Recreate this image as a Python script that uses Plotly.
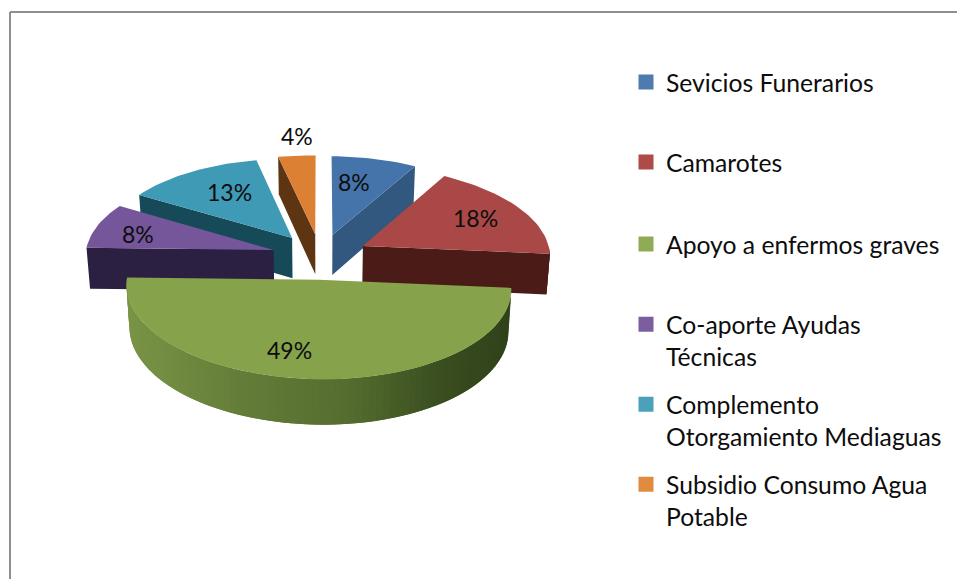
import math
import plotly.graph_objects as go

categories = ["Sevicios Funerarios", "Camarotes", "Apoyo a enfermos graves",
              "Co-aporte Ayudas<br>Técnicas", "Complemento<br>Otorgamiento Mediaguas",
              "Subsidio Consumo Agua<br>Potable"]
values = [8, 18, 49, 8.4, 13.1, 3.5]
top_colors = ["#4474aa", "#a94846", "#86a24a", "#75569a", "#3f9ab5", "#dc8034"]
wall_colors = ["#33587f", "#4b1b18", "#3c5022", "#2c2042", "#164a58", "#5e3512"]
legend_colors = ["#4f7ab0", "#ae4a48", "#8fab53", "#7c5ea0", "#4aa1b9", "#e08b3e"]

W, H = 957, 579
CX, CY, A, B, P, DEPTH, SHRINK, EXPLODE, ROLL = 320.5, 256.5, 188, 88, 0.077, 41, 0.015, 0.26, 0.0115
FONT = "Lato"
TEXT = "#0d0d0d"
LABEL_XY = [(354, 182), (475, 218), (289, 350), (138, 234), (229, 192), (297, 136)]
LEGEND_X = 626
LEGEND_Y = [83, 163, 245, 325, 405, 485]


def project(X, Y, z=0):
    s = 1 / (1 + P * Y)
    x = CX + A * X * s * (1 - SHRINK * z)
    return x, CY - B * Y * s + DEPTH * z * s + ROLL * (x - CX)


def pt(theta, r, ox, oy, z=0):
    t = math.radians(theta)
    return project(ox + r * math.sin(t), oy + r * math.cos(t), z)


def poly(fig, pts, color):
    fig.add_trace(go.Scatter(x=[p[0] for p in pts] + [pts[0][0]], y=[p[1] for p in pts] + [pts[0][1]],
                             mode="lines", fill="toself", fillcolor=color,
                             line=dict(color=color, width=0), hoverinfo="skip", showlegend=False))


def wall_shade(x):
    # horizontal gradient of the large curved wall
    stops = [(125, (122, 148, 70)), (250, (98, 124, 56)), (350, (84, 108, 46)), (440, (58, 78, 32)), (510, (48, 66, 26))]
    for (x0, c0), (x1, c1) in zip(stops, stops[1:]):
        if x <= x1:
            f = max(0, (x - x0) / (x1 - x0))
            return "rgb(%d,%d,%d)" % tuple(round(a + (b - a) * f) for a, b in zip(c0, c1))
    return "rgb(%d,%d,%d)" % stops[-1][1]


# slices with angle spans, clockwise from the top
total = sum(values)
spans, acc = [], 0
for v in values:
    spans.append((acc / total * 360, (acc + v) / total * 360))
    acc += v

fig = go.Figure()
order = sorted(range(len(values)), key=lambda i: -math.cos(math.radians(sum(spans[i]) / 2)))
for i in order:
    a0, a1 = spans[i]
    mid = math.radians((a0 + a1) / 2)
    ox, oy = EXPLODE * math.sin(mid), EXPLODE * math.cos(mid)
    # flat cut faces that look toward the viewer
    if math.cos(math.radians(a0 - 90)) < -1e-6:
        poly(fig, [pt(a0, 0, ox, oy), pt(a0, 1, ox, oy), pt(a0, 1, ox, oy, 1), pt(a0, 0, ox, oy, 1)], wall_colors[i])
    if math.cos(math.radians(a1 + 90)) < -1e-6:
        poly(fig, [pt(a1, 0, ox, oy), pt(a1, 1, ox, oy), pt(a1, 1, ox, oy, 1), pt(a1, 0, ox, oy, 1)], wall_colors[i])
    # curved outer wall on the near half, each strip overlapping the next to avoid seams
    lo, hi = max(a0, 90), min(a1, 270)
    if hi > lo:
        n = max(2, int((hi - lo) / 2))
        for k in range(n):
            t0, t1 = lo + (hi - lo) * k / n, lo + (hi - lo) * (k + 2) / n
            t1 = min(t1, hi)
            tm = lo + (hi - lo) * (k + 0.5) / n
            color = wall_shade(pt(tm, 1, ox, oy)[0]) if i == 2 else wall_colors[i]
            poly(fig, [pt(t0, 1, ox, oy), pt((t0 + t1) / 2, 1, ox, oy), pt(t1, 1, ox, oy),
                       pt(t1, 1, ox, oy, 1), pt((t0 + t1) / 2, 1, ox, oy, 1), pt(t0, 1, ox, oy, 1)], color)
    # top face
    n = max(8, int((a1 - a0) / 2))
    arc = [pt(a0 + (a1 - a0) * k / n, 1, ox, oy) for k in range(n + 1)]
    poly(fig, [pt(0, 0, ox, oy)] + arc, top_colors[i])

# percentage labels
annotations = [dict(x=x, y=y, text=f"{v:.0f}%", showarrow=False, font=dict(family=FONT, size=23, color=TEXT))
               for (x, y), v in zip(LABEL_XY, values)]

# one legend per category, so each entry sits at its own height
legends = {}
for i, name in enumerate(categories):
    key = "legend" if i == 0 else f"legend{i + 1}"
    label = ("\u00a0<br>" + name) if "<br>" in name else name
    fig.add_trace(go.Scatter(x=[None], y=[None], mode="markers", name=label, legend=key,
                             marker=dict(symbol="square", size=15, color=legend_colors[i])))
    legends[key] = dict(x=LEGEND_X / W, y=1 - (LEGEND_Y[i] - 0.5) / H, xanchor="left", yanchor="middle",
                        bgcolor="rgba(0,0,0,0)", borderwidth=0, itemwidth=30,
                        font=dict(family=FONT, size=24.7, color=TEXT))

fig.update_layout(
    width=W, height=H, margin=dict(l=0, r=0, t=0, b=0),
    paper_bgcolor="white", plot_bgcolor="white",
    xaxis=dict(range=[0, W], visible=False, fixedrange=True),
    yaxis=dict(range=[H, 0], visible=False, fixedrange=True),
    annotations=annotations,
    shapes=[dict(type="line", x0=10 / W, x1=1, y0=1 - 12 / H, y1=1 - 12 / H, xref="paper", yref="paper",
                 line=dict(color="#8f8f8f", width=2)),
            dict(type="line", x0=10 / W, x1=10 / W, y0=0, y1=1 - 12 / H, xref="paper", yref="paper",
                 line=dict(color="#8f8f8f", width=2))],
    **legends,
)
fig.write_html("out.html", config=dict(displayModeBar=False),
               post_script="document.body.style.margin='0';document.documentElement.style.overflow='hidden';")
